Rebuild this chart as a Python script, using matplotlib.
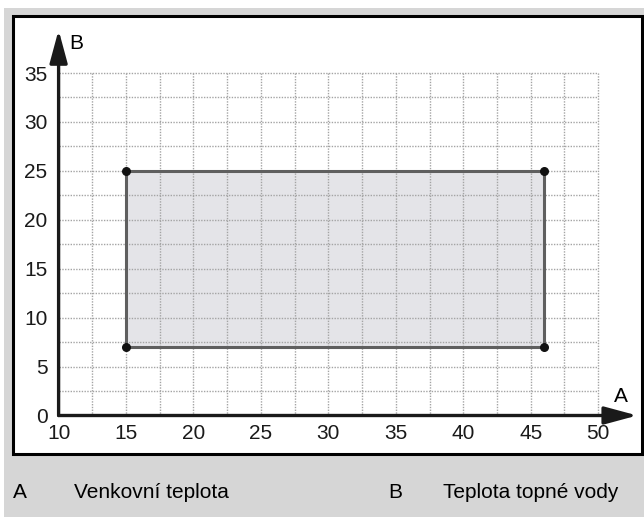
import matplotlib.pyplot as plt
from matplotlib.patches import Rectangle
import numpy as np

plt.rcParams['font.family'] = ['Liberation Sans', 'DejaVu Sans']

# Operating range: outdoor temperature (A) vs heating water temperature (B)
range_a = [15, 46]
range_b = [7, 25]

x_ticks = [10, 15, 20, 25, 30, 35, 40, 45, 50]
y_ticks = [0, 5, 10, 15, 20, 25, 30, 35]
grid_step = 2.5

legend_keys = ['A', 'B']
legend_texts = ['Venkovní teplota', 'Teplota topné vody']

W, H = 644, 517
FS = 15
fig = plt.figure(figsize=(W / 100, H / 100), dpi=100, facecolor='white')

# grey panel + white framed box (behind the axes)
fig.patches.append(Rectangle((4 / W, 0), 1 - 4 / W, 1 - 8 / H, transform=fig.transFigure,
                             facecolor='#d6d6d6', edgecolor='none', zorder=-2))
fig.patches.append(Rectangle((13 / W, 1 - 454 / H), (642 - 13) / W, (454 - 16) / H,
                             transform=fig.transFigure, facecolor='white',
                             edgecolor='black', linewidth=2.2, zorder=-1))

ax = fig.add_axes([58.6 / W, (H - 415.5) / H, 580 / W, 386.5 / H])
ax.set_facecolor('none')
ax.set_xlim(10, 53)
ax.set_ylim(0, 39.5)
for s in ax.spines.values():
    s.set_visible(False)

# dotted grid
for gx in np.arange(12.5, 50.01, grid_step):
    ax.plot([gx, gx], [0, 35], color='#a4a4a4', lw=1.0, ls=(0, (1, 1)), zorder=1)
for gy in np.arange(2.5, 35.01, grid_step):
    ax.plot([10, 50], [gy, gy], color='#a4a4a4', lw=1.0, ls=(0, (1, 1)), zorder=1)

# operating range rectangle
ax.add_patch(Rectangle((range_a[0], range_b[0]), range_a[1] - range_a[0], range_b[1] - range_b[0],
                       facecolor='#e4e4e8', edgecolor='none', zorder=0.5))
ax.plot([range_a[0], range_a[1], range_a[1], range_a[0], range_a[0]],
        [range_b[0], range_b[0], range_b[1], range_b[1], range_b[0]],
        color='#5f5f5f', lw=2.2, zorder=3)
ax.scatter([range_a[0], range_a[1], range_a[1], range_a[0]],
           [range_b[0], range_b[0], range_b[1], range_b[1]],
           s=30, color='#111111', zorder=4)

# axes with arrowheads
arrow = dict(arrowstyle='-|>,head_length=20,head_width=5.4', mutation_scale=1,
             color='#1a1a1a', lw=2.4, shrinkA=0, shrinkB=0)
ax.annotate('', xy=(52.9, 0), xytext=(10, 0), arrowprops=arrow, annotation_clip=False, zorder=5)
ax.annotate('', xy=(10, 39.4), xytext=(10, 0), arrowprops=arrow, annotation_clip=False, zorder=5)
ax.text(10.8, 38.0, 'B', fontsize=FS, ha='left', va='center')
ax.text(51.7, 1.9, 'A', fontsize=FS, ha='center', va='center')

ax.set_xticks(x_ticks)
ax.set_yticks(y_ticks)
ax.tick_params(length=0, labelsize=FS, colors='#1a1a1a')
ax.tick_params(axis='x', pad=6)
ax.tick_params(axis='y', pad=8)

# key below the box
fig.text(13 / W, 1 - 492 / H, legend_keys[0], fontsize=FS, va='center')
fig.text(74 / W, 1 - 492 / H, legend_texts[0], fontsize=FS, va='center')
fig.text(388 / W, 1 - 492 / H, legend_keys[1], fontsize=FS, va='center')
fig.text(443 / W, 1 - 492 / H, legend_texts[1], fontsize=FS, va='center')

fig.savefig('out.png', dpi=100, facecolor=fig.get_facecolor())
